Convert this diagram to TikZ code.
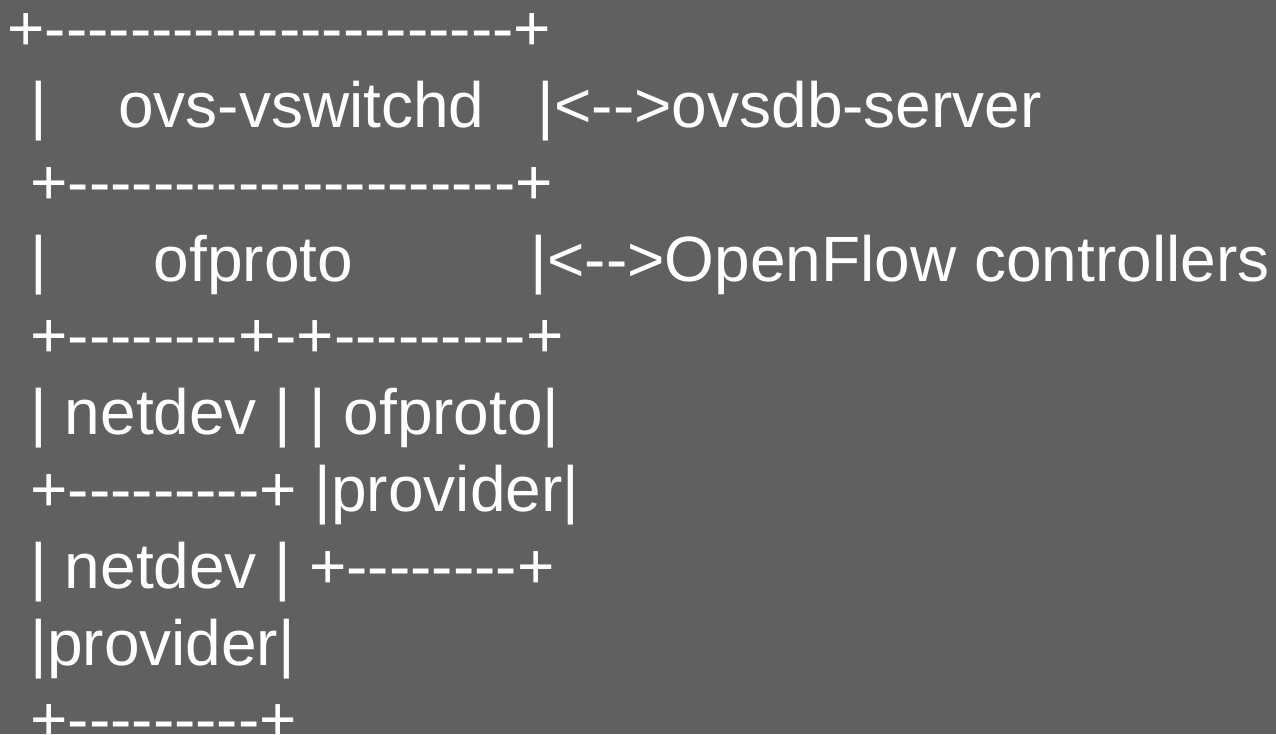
\documentclass[tikz,border=0pt]{standalone}
\usepackage{fontspec}
\newfontfamily\asc{Liberation Sans}
\definecolor{bg}{RGB}{96,96,96}
\begin{document}
\begin{tikzpicture}[x=1pt,y=-1pt,
  txt/.style={anchor=base west, inner sep=0pt, outer sep=0pt, text=white,
    font=\asc\fontsize{64}{77}\selectfont}]
\useasboundingbox (0,0) rectangle (1276,734);
\fill[bg] (0,0) rectangle (1276,734);
\clip (0,0) rectangle (1276,734);
\node[txt] (l1) at (7.4,50.6) {+----------------------+};
\node[txt] (l2) at (30.5,127.4) {|~~~~ovs-vswitchd~~~|<-->ovsdb-server};
\node[txt] (l3) at (30.4,204.2) {+---------------------+};
\node[txt] (l4) at (30.5,281.0) {|~~~~~~ofproto~~~~~~~~~~|<-->OpenFlow controllers};
\node[txt] (l5) at (30.4,357.8) {+--------+-+---------+};
\node[txt] (l6) at (30.5,434.6) {| netdev | | ofproto|};
\node[txt] (l7) at (30.4,511.4) {+---------+ |provider|};
\node[txt] (l8) at (30.5,588.2) {| netdev | +--------+};
\node[txt] (l9) at (30.5,665.0) {|provider|};
\node[txt] (l10) at (30.4,741.8) {+---------+};
\end{tikzpicture}
\end{document}
